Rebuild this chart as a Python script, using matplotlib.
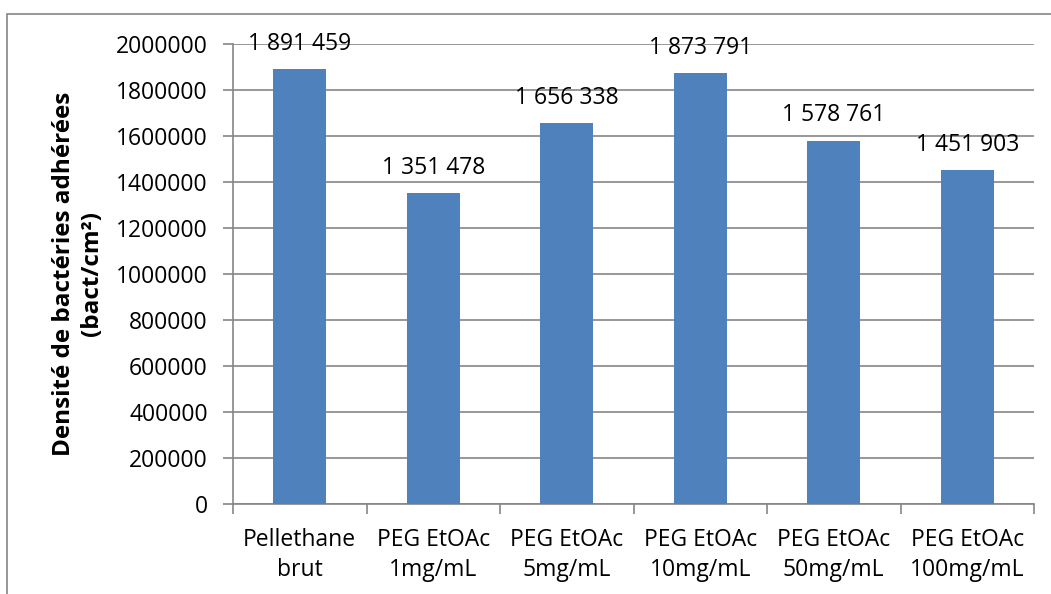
import matplotlib
matplotlib.use("Agg")
import matplotlib.pyplot as plt
from matplotlib.patches import Rectangle

categories = ["Pellethane\nbrut", "PEG EtOAc\n1mg/mL", "PEG EtOAc\n5mg/mL",
              "PEG EtOAc\n10mg/mL", "PEG EtOAc\n50mg/mL", "PEG EtOAc\n100mg/mL"]
values = [1891459, 1351478, 1656338, 1873791, 1578761, 1451903]
labels = ["1 891 459", "1 351 478", "1 656 338", "1 873 791", "1 578 761", "1 451 903"]
yticks = [0, 200000, 400000, 600000, 800000, 1000000, 1200000, 1400000,
          1600000, 1800000, 2000000]

plt.rcParams['font.family'] = ['Open Sans', 'DejaVu Sans']
FS = 16.5
W, H = 1051, 594
fig = plt.figure(figsize=(W / 100, H / 100), dpi=100)
ax = fig.add_axes([233 / W, 1 - 504 / H, (1034 - 233) / W, (504 - 44) / H])

x = list(range(len(categories)))
ax.bar(x, values, width=0.4, color="#4F81BD", zorder=3)
ax.set_xlim(-0.5, len(categories) - 0.5)
ax.set_ylim(0, 2000000)
ax.set_yticks(yticks)
ax.set_yticklabels([str(v) for v in yticks], fontsize=FS)
ax.yaxis.grid(True, color="#868686", linewidth=1.2, zorder=0)
ax.set_xticks(x)
ax.set_xticklabels(categories, fontsize=FS, linespacing=1.38)
ax.set_xticks([i - 0.5 for i in range(len(categories) + 1)], minor=True)
ax.tick_params(axis="x", which="major", length=0, pad=17)
ax.tick_params(axis="x", which="minor", length=7, color="#868686", width=1.2)
ax.tick_params(axis="y", length=7, color="#868686", width=1.2, pad=11)
for s in ["top", "right"]:
    ax.spines[s].set_visible(False)
for s in ["left", "bottom"]:
    ax.spines[s].set_color("#868686")
    ax.spines[s].set_linewidth(1.2)

for xi, v, lab in zip(x, values, labels):
    ax.annotate(lab, (xi, v), xytext=(0, 14), textcoords="offset points",
                ha="center", va="baseline", fontsize=FS, zorder=4)

ax.set_ylabel("Densité de bactéries adhérées\n(bact/cm²)", fontsize=17.5,
              fontweight="bold", labelpad=9, linespacing=1.2)

fig.patches.append(Rectangle((7 / W, -0.1), 1.2, 1 - 14 / H + 0.1,
                             transform=fig.transFigure, fill=False,
                             edgecolor="#868686", linewidth=1.2))

fig.savefig("out.png", dpi=100)
